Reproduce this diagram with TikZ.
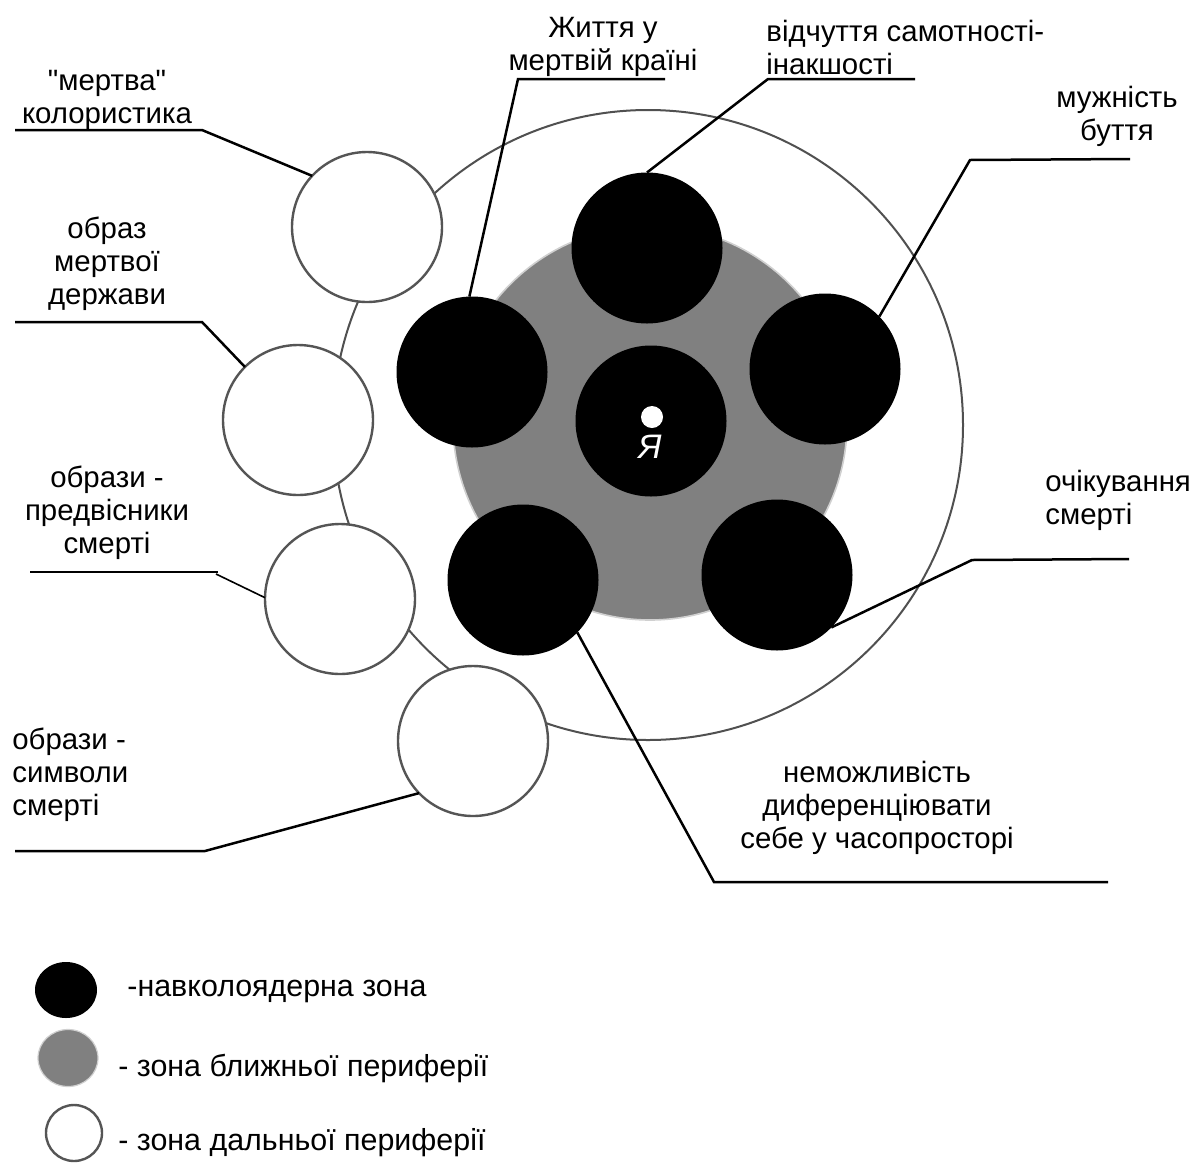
\documentclass[tikz,border=0pt]{standalone}
\usepackage{fontspec}
\setmainfont{Liberation Sans}
\usetikzlibrary{shapes.geometric}
\definecolor{ringc}{HTML}{505050}
\definecolor{wline}{HTML}{555555}
\definecolor{nearc}{HTML}{808080}
\definecolor{halo}{HTML}{D0D0D0}
\begin{document}
\begin{tikzpicture}[x=0.5pt,y=-0.5pt,
  lbl/.style={inner sep=0, font=\fontsize{14.7pt}{16.5pt}\selectfont, align=center},
  lbll/.style={lbl, align=left, anchor=west},
  lgt/.style={inner sep=0, anchor=west, font=\fontsize{15.2pt}{17pt}\selectfont},
  blk/.style={circle, fill=black, inner sep=0, outer sep=0, minimum size=75.5pt},
  wht/.style={circle, draw=wline, fill=white, line width=1.2pt, inner sep=0, outer sep=0, minimum size=75pt},
  lead/.style={line width=1.25pt, black},
  thinlead/.style={line width=0.8pt, black}]
\useasboundingbox (0,0) rectangle (1194,1163);
\fill[white] (0,0) rectangle (1194,1163);

% rings
\node[circle, draw=ringc, line width=1pt, inner sep=0, outer sep=0, minimum size=315pt] (outer) at (648,425) {};
\node[circle, fill=nearc, draw=halo, line width=0.8pt, inner sep=0, outer sep=0, minimum size=197pt] (near) at (650,423) {};

% far periphery
\node[wht] (w1) at (367,227) {};
\node[wht] (w2) at (298,420) {};
\node[wht] (w3) at (340,599) {};
\node[wht] (w4) at (473,741) {};

% near-core zone
\node[blk] (bc) at (651,421) {};
\node[blk] (bt) at (647,248) {};
\node[blk] (bl) at (472,372) {};
\node[blk] (br) at (825,369) {};
\node[blk] (bbl) at (523,580) {};
\node[blk] (bbr) at (777,575) {};

\node[circle, fill=white, inner sep=0, minimum size=11pt] (core) at (652,417) {};
\node[inner sep=0, text=white, font=\fontsize{17pt}{19pt}\selectfont\itshape] (ya) at (650,447) {Я};

% labels
\node[lbl] (t1) at (107,100) {\textquotedbl мертва\textquotedbl\\колористика};
\node[lbl] (t2) at (107,264) {образ\\мертвої\\держави};
\node[lbl] (t3) at (107,513) {образи -\\предвісники\\смерті};
\node[lbll] (t4) at (12,775) {образи -\\символи\\смерті};
\node[lbl] (t5) at (603,47) {Життя у\\мертвій країні};
\node[lbll] (t6) at (766,47) {відчуття самотності-\\інакшості};
\node[lbl] (t7) at (1117,116) {мужність\\буття};
\node[lbll] (t8) at (1045,500) {очікування\\смерті};
\node[lbl] (t9) at (877,808) {неможливість\\диференціювати\\себе у часопросторі};

% leader coordinates
\coordinate (u1a) at (15,130);  \coordinate (u1b) at (202,130);
\coordinate (u2a) at (15,322);  \coordinate (u2b) at (202,322);
\coordinate (u3a) at (30,572);  \coordinate (u3b) at (218,572); \coordinate (u3c) at (216,574);
\coordinate (u4a) at (15,851);  \coordinate (u4b) at (205,851);
\coordinate (u5a) at (665,79);  \coordinate (u5b) at (518,79);
\coordinate (u6a) at (915,79);  \coordinate (u6b) at (768,79);
\coordinate (u7a) at (1130,159); \coordinate (u7b) at (970,160);
\coordinate (u8a) at (1129,559); \coordinate (u8b) at (972,560);
\coordinate (u9a) at (1108,882); \coordinate (u9b) at (714,882);

\draw[lead] (u1a) -- (u1b) -- (w1.137);
\draw[lead] (u2a) -- (u2b) -- (w2.135);
\draw[lead] (u3a) -- (u3b);
\draw[thinlead] (u3c) -- (w3.179);
\draw[lead] (u4a) -- (u4b) -- (w4.224);
\draw[lead] (u5a) -- (u5b) -- (bl.92);
\draw[lead] (u6a) -- (u6b) -- (bt.90);
\draw[lead] (u7a) -- (u7b) -- (br.44);
\draw[lead] (u8a) -- (u8b) -- (bbr.-44);
\draw[lead] (u9a) -- (u9b) -- (bbl.-44);

% legend
\node[ellipse, fill=black, inner sep=0, minimum width=31pt, minimum height=28pt] (lg1) at (66,990) {};
\node[ellipse, fill=nearc, draw=halo, line width=0.6pt, inner sep=0, minimum width=30pt, minimum height=28.5pt] (lg2) at (68,1058) {};
\node[ellipse, draw=wline, fill=white, line width=1.2pt, inner sep=0, minimum width=28pt, minimum height=28pt] (lg3) at (74,1133) {};
\node[lgt] (lt1) at (127,991) {-навколоядерна зона};
\node[lgt] (lt2) at (118,1068) {- зона ближньої периферії};
\node[lgt] (lt3) at (118,1143) {- зона дальньої периферії};
\end{tikzpicture}
\end{document}
